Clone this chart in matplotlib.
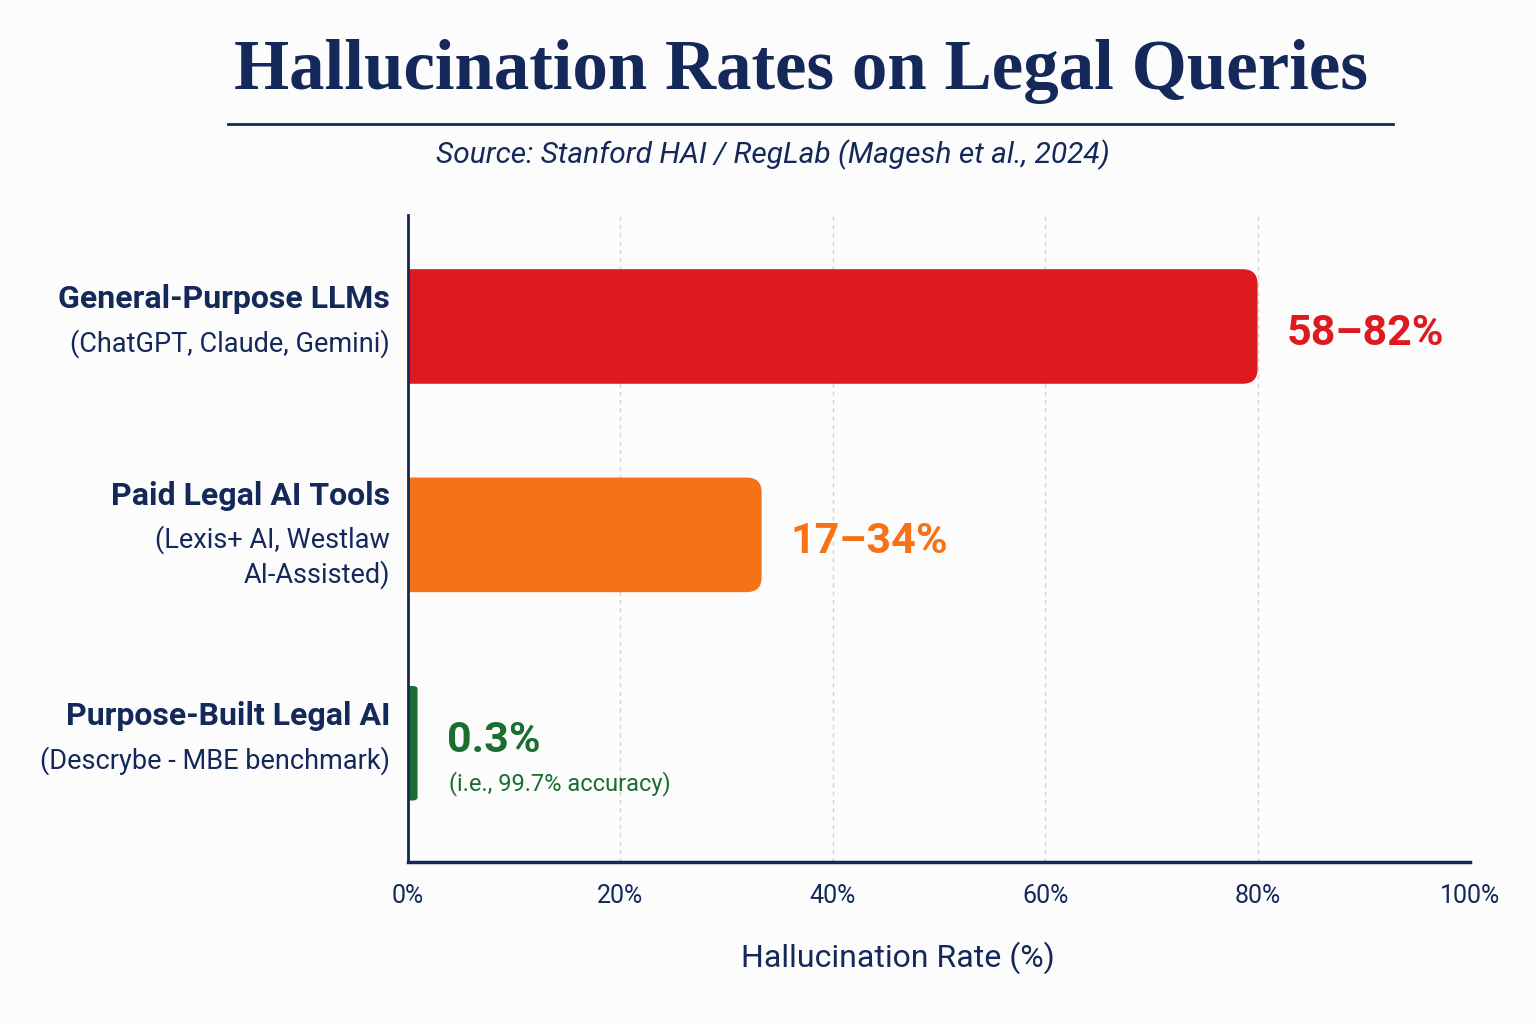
import matplotlib.pyplot as plt
from matplotlib.patches import FancyBboxPatch
from matplotlib.lines import Line2D

# --- data ---
categories = ["General-Purpose LLMs", "Paid Legal AI Tools", "Purpose-Built Legal AI"]
descriptions = ["(ChatGPT, Claude, Gemini)",
                "(Lexis+ AI, Westlaw\nAI-Assisted)",
                "(Descrybe - MBE benchmark)"]
bar_lengths = [80, 33.3, 0.9]
value_labels = ["58–82%", "17–34%", "0.3%"]
value_notes = ["", "", "(i.e., 99.7% accuracy)"]
bar_colors = ["#dc1a1f", "#f57316", "#1b6e30"]
x_ticks = [0, 20, 40, 60, 80, 100]
x_tick_labels = ["0%", "20%", "40%", "60%", "80%", "100%"]

NAVY = "#14295a"
SANS = ["Roboto", "DejaVu Sans"]
W, H = 1536, 1024
PT = 0.72  # points per pixel at dpi 100

plt.rcParams['font.family'] = SANS

fig = plt.figure(figsize=(W / 100, H / 100), dpi=100, facecolor="#fcfcfc")
ax = fig.add_axes([408 / W, 1 - 862 / H, (1470 - 408) / W, (862 - 215) / H])
ax.set_facecolor("#fcfcfc")

ypos = list(range(len(categories)))
ax.set_xlim(0, 100)
ax.set_ylim(2.57, -0.535)

bars = ax.barh(ypos, bar_lengths, height=0.55, color=bar_colors)

# swap the plain bars for ones with rounded right ends
ax_w = (1470 - 408)
ax_h = (862 - 215)
px_x = ax_w / 100.0
px_y = ax_h / (2.57 + 0.535)
for b, c in zip(bars, bar_colors):
    r = min(15 / px_x, b.get_width() / 2 + 0.05)
    aspect = (15 / px_y) / (15 / px_x) if r == 15 / px_x else (3 / px_y) / r
    p = FancyBboxPatch((b.get_x() - r, b.get_y()), b.get_width() + r, b.get_height(),
                       boxstyle=f"round,pad=0,rounding_size={r}",
                       mutation_aspect=aspect, facecolor=c, edgecolor="none",
                       zorder=3, clip_on=True)
    ax.add_patch(p)
    b.remove()

# grid and spines
ax.set_xticks(x_ticks)
ax.set_xticklabels(x_tick_labels)
ax.set_yticks([])
ax.tick_params(axis="x", length=0, pad=16, labelsize=18, labelcolor=NAVY)
ax.grid(axis="x", color="#d3d3d3", linestyle=(0, (3, 3)), linewidth=1, zorder=0)
for s in ["top", "right"]:
    ax.spines[s].set_visible(False)
ax.spines["left"].set_color(NAVY)
ax.spines["left"].set_linewidth(2)
ax.spines["bottom"].set_color(NAVY)
ax.spines["bottom"].set_linewidth(2.5)
ax.spines["left"].set_zorder(5)
ax.spines["bottom"].set_zorder(5)

# category labels on the left
for i, (cat, desc) in enumerate(zip(categories, descriptions)):
    extra = desc.count("\n")
    shift = 12 * extra
    ax.annotate(cat, xy=(0, i), xycoords=("axes fraction", "data"),
                xytext=(-18 * PT, (18 + shift) * PT), textcoords="offset points",
                ha="right", va="baseline", fontsize=23, fontweight="bold", color=NAVY)
    # baseline alignment goes by the last line of a wrapped text
    ax.annotate(desc, xy=(0, i), xycoords=("axes fraction", "data"),
                xytext=(-18 * PT, -(25 - shift + 35 * extra) * PT), textcoords="offset points",
                ha="right", va="baseline", fontsize=19.5, color=NAVY,
                linespacing=1.3, multialignment="right")

# value labels at the bar ends
for i, (v, lab, note, c) in enumerate(zip(bar_lengths, value_labels, value_notes, bar_colors)):
    dy = 3 if note else -7
    ax.annotate(lab, xy=(v, i), xytext=(29 * PT, dy * PT), textcoords="offset points",
                ha="left", va="center", fontsize=31, fontweight="bold", color=c)
    if note:
        ax.annotate(note, xy=(v, i), xytext=(31 * PT, -40 * PT), textcoords="offset points",
                    ha="left", va="center", fontsize=17, color=c)

# titles
fig.text(801 / W, 1 - 72 / H, "Hallucination Rates on Legal Queries",
         ha="center", va="center", fontsize=51, fontweight="bold",
         family=["Liberation Serif", "DejaVu Serif"], color=NAVY)
fig.add_artist(Line2D([228 / W, 1393 / W], [1 - 124 / H, 1 - 124 / H],
                      color=NAVY, linewidth=2))
fig.text(773 / W, 1 - 155 / H, "Source: Stanford HAI / RegLab (Magesh et al., 2024)",
         ha="center", va="center", fontsize=21.5, style="italic", color=NAVY)
fig.text(898 / W, 1 - 958 / H, "Hallucination Rate (%)",
         ha="center", va="center", fontsize=23, color=NAVY)

fig.savefig("out.png", dpi=100, facecolor=fig.get_facecolor())
